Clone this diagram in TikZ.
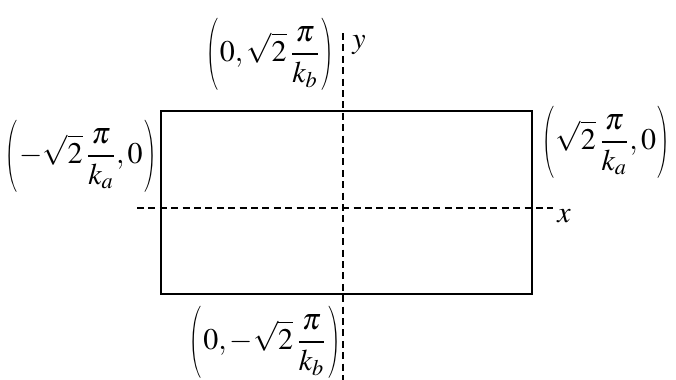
\documentclass[tikz,border=0pt]{standalone}
\usepackage{mathptmx}
\usepackage{graphicx}
\usetikzlibrary{positioning}

% thin tall parentheses round a fraction
\newcommand{\lpar}{\mathopen{\scalebox{0.55}[1]{$\displaystyle\left(\vphantom{\frac{\pi}{k_b}}\right.$}}}
\newcommand{\rpar}{\mathclose{\scalebox{0.55}[1]{$\displaystyle\left.\vphantom{\frac{\pi}{k_b}}\right)$}}}

\begin{document}
\begin{tikzpicture}[
    x=0.5pt, y=-0.5pt,
    axis/.style={line width=0.9pt, dash pattern=on 3.5pt off 2.2pt},
    lbl/.style={inner sep=0pt, font=\fontsize{15}{18}\selectfont}
  ]
  \useasboundingbox (0,0) rectangle (676,380);

  % Rectangle
  \draw[line width=1pt] (161,111) rectangle (532,294);

  % Axes
  \coordinate (xa) at (137,208);
  \coordinate (xb) at (553,208);
  \coordinate (ya) at (343,33);
  \coordinate (yb) at (343,380);
  \draw[axis] (xa) -- (xb);
  \draw[axis] (ya) -- (yb);
  \node[lbl] (xlab) at (564,216) {$x$};
  \node[lbl] (ylab) at (359,45) {$y$};

  % Corner points
  \node[lbl] (top) at (270,54)
    {$\displaystyle\lpar 0,\sqrt{2}\,\frac{\pi}{k_b}\rpar$};
  \node[lbl] (left) at (81,156)
    {$\displaystyle\lpar{-}\sqrt{2}\,\frac{\pi}{k_a},0\rpar$};
  \node[lbl] (right) at (606,142)
    {$\displaystyle\lpar\sqrt{2}\,\frac{\pi}{k_a},0\rpar$};
  \node[lbl] (bottom) at (265,342)
    {$\displaystyle\lpar 0,{-}\sqrt{2}\,\frac{\pi}{k_b}\rpar$};
\end{tikzpicture}
\end{document}
